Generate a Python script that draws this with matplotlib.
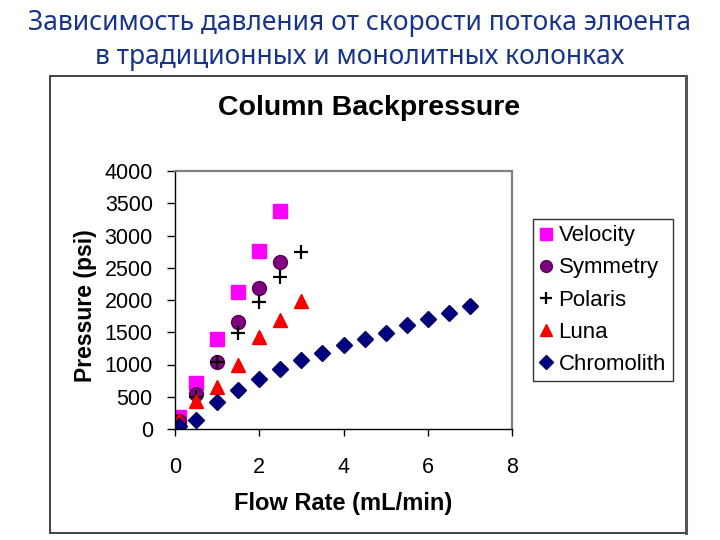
import matplotlib
matplotlib.use("Agg")
import matplotlib.pyplot as plt
from matplotlib.patches import Rectangle
from matplotlib.lines import Line2D

# flow rates (mL/min) and pressures (psi)
vel_x = [0.1, 0.5, 1.0, 1.5, 2.0, 2.5]
vel_y = [180, 710, 1395, 2125, 2765, 3375]
sym_x = [0.1, 0.5, 1.0, 1.5, 2.0, 2.5]
sym_y = [125, 540, 1040, 1660, 2185, 2595]
pol_x = [0.1, 0.5, 1.0, 1.5, 2.0, 2.5, 3.0]
pol_y = [90, 490, 1035, 1495, 1975, 2360, 2750]
luna_x = [0.1, 0.5, 1.0, 1.5, 2.0, 2.5, 3.0]
luna_y = [140, 440, 650, 985, 1425, 1695, 1985]
chr_x = [0.1, 0.5, 1.0, 1.5, 2.0, 2.5, 3.0, 3.5, 4.0, 4.5, 5.0, 5.5, 6.0, 6.5, 7.0]
chr_y = [40, 140, 415, 605, 775, 925, 1070, 1185, 1300, 1395, 1495, 1610, 1700, 1805, 1900]

plt.rcParams['font.family'] = ['Liberation Sans', 'DejaVu Sans']

fig = plt.figure(figsize=(7.2, 5.4), dpi=100)

# slide title
fig.text(0.5, 1 - 23 / 540, "Зависимость давления от скорости потока элюента",
         ha='center', va='center', fontsize=19, color='#16348a', family='Noto Sans')
fig.text(0.5, 1 - 57 / 540, "в традиционных и монолитных колонках",
         ha='center', va='center', fontsize=19, color='#16348a', family='Noto Sans')

# chart frame
fig.patches.append(Rectangle((50 / 720, 1 - 533 / 540), 636 / 720, 457 / 540,
                             transform=fig.transFigure, fill=False, ec='#222222', lw=1.2))
fig.lines.append(Line2D([686 / 720, 686 / 720], [1 - 533 / 540, 1 - 76 / 540],
                        transform=fig.transFigure, color='#555555', lw=2.2))

ax = fig.add_axes([175 / 720, 1 - 429 / 540, 337 / 720, 258 / 540])

ax.plot(vel_x, vel_y, 's', color='#ff00ff', ms=10, mec='#ff00ff', label='Velocity')
ax.plot(sym_x, sym_y, 'o', color='#800080', ms=10, mec='#5a005a', label='Symmetry')
ax.plot(pol_x, pol_y, '+', color='black', ms=10, mew=1.6, label='Polaris')
ax.plot(luna_x, luna_y, '^', color='#ff0000', ms=10, mec='#ee0000', label='Luna')
ax.plot(chr_x, chr_y, 'D', color='#000080', ms=8, mec='#000060', label='Chromolith')

ax.set_xlim(0, 8)
ax.set_ylim(0, 4000)
ax.set_xticks([0, 2, 4, 6, 8])
ax.set_yticks(range(0, 4001, 500))
ax.tick_params(direction='out', width=1, labelsize=15.5)
ax.tick_params(axis='x', length=5, pad=15)
ax.tick_params(axis='y', length=6, pad=10)

for side in ['top', 'right']:
    ax.spines[side].set_color('#808080')
    ax.spines[side].set_linewidth(1.6)
for side in ['left', 'bottom']:
    ax.spines[side].set_color('black')
    ax.spines[side].set_linewidth(1)

ax.set_xlabel('Flow Rate (mL/min)', fontsize=17, fontweight='bold')
ax.set_ylabel('Pressure (psi)', fontsize=16.5, fontweight='bold')
ax.xaxis.set_label_coords(0.4985, -0.245)
ax.yaxis.set_label_coords(-0.232, 0.48)

fig.text(369 / 720, 1 - 108 / 540, 'Column Backpressure', ha='center', va='center',
         fontsize=20.5, fontweight='bold')

leg = ax.legend(loc='center left', bbox_to_anchor=(533 / 720, 1 - 300 / 540),
                bbox_transform=fig.transFigure, fontsize=16, frameon=True, fancybox=False,
                handlelength=0.6, handletextpad=0.25, borderpad=0.3, labelspacing=0.5,
                borderaxespad=0, markerscale=0.85)
leg.get_frame().set_edgecolor('black')
leg.get_frame().set_linewidth(1)

fig.savefig('out.png', dpi=100)
